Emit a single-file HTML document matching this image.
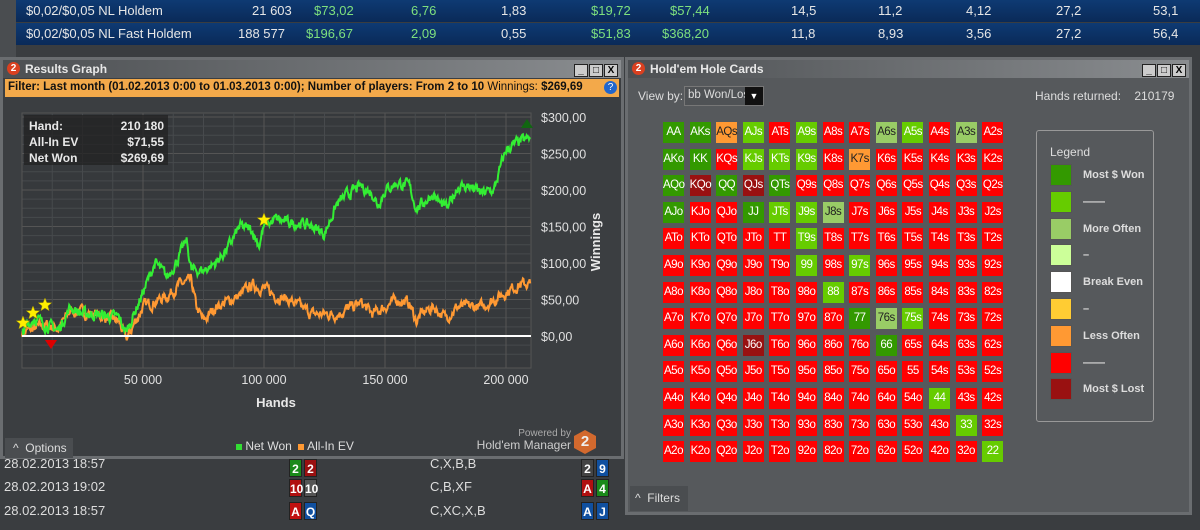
<!DOCTYPE html>
<html><head><meta charset="utf-8"><style>
*{margin:0;padding:0;box-sizing:border-box}
body{width:1200px;height:530px;overflow:hidden;background:#3a3d40;font-family:"Liberation Sans",sans-serif;position:relative;color:#ddd}
.abs{position:absolute}
.row{position:absolute;left:16px;width:1184px;height:22px;background:linear-gradient(#0e3a73,#0a2a58);font-size:13px;color:#e6e6e6}
.row span{position:absolute;top:3px}
.g{color:#7ee07e}
.win{position:absolute;background:#3b3e41;border:3px solid #6a6d70}
.title{position:absolute;left:0;right:0;top:0;height:18px;background:linear-gradient(90deg,#4c4f52,#8a8d90);font-size:12px;font-weight:bold;color:#e8e8e8;padding:2px 0 0 22px}
.logo{position:absolute;left:4px;top:2px;width:13px;height:13px;border-radius:50%;background:#d94020;color:#fff;font-size:10px;text-align:center;line-height:13px}
.btns{position:absolute;right:3px;top:2px}
.btns b{display:inline-block;width:14px;height:13px;background:#ccc;border:1px solid #222;margin-left:1px;font-size:10px;color:#000;text-align:center;line-height:12px}
.cell{position:absolute;width:21px;height:21px;font-size:11.5px;text-align:center;line-height:21px;color:#fff;letter-spacing:-0.5px}
.leg{position:absolute;left:13px;width:22px;height:22px;border:1px solid #555}
.legt{position:absolute;left:46px;font-size:11px;font-weight:bold;color:#ddd}
.bl{position:absolute;font-size:13px;color:#ddd}
.card{position:absolute;width:13px;height:18px;font-size:12px;font-weight:bold;color:#fff;text-align:center;line-height:18px;border:1px solid #222}
</style></head><body>
<div class="abs" style="left:0;top:0;width:16px;height:60px;background:#4a4d50"></div>
<div class="row" style="top:0"><span style="left:10px">$0,02/$0,05 NL Holdem</span><span style="left:236px">21 603</span><span class="g" style="left:298px">$73,02</span><span class="g" style="left:395px">6,76</span><span style="left:485px">1,83</span><span class="g" style="left:575px">$19,72</span><span class="g" style="left:654px">$57,44</span><span style="left:775px">14,5</span><span style="left:862px">11,2</span><span style="left:950px">4,12</span><span style="left:1040px">27,2</span><span style="left:1137px">53,1</span></div>
<div class="row" style="top:23px"><span style="left:10px">$0,02/$0,05 NL Fast Holdem</span><span style="left:222px">188 577</span><span class="g" style="left:290px">$196,67</span><span class="g" style="left:395px">2,09</span><span style="left:485px">0,55</span><span class="g" style="left:575px">$51,83</span><span class="g" style="left:646px">$368,20</span><span style="left:775px">11,8</span><span style="left:862px">8,93</span><span style="left:950px">3,56</span><span style="left:1040px">27,2</span><span style="left:1137px">56,4</span></div>

<div class="win" style="left:0;top:57px;width:624px;height:402px">
<div class="title"><div class="logo">2</div>Results Graph<div class="btns"><b>_</b><b>□</b><b>X</b></div></div>
<div class="abs" style="left:2px;top:19px;width:614px;height:18px;background:#f3a94a;font-size:11.5px;color:#111;padding:2px 0 0 3px"><b>Filter:</b> <b>Last month (01.02.2013 0:00 to 01.03.2013 0:00); Number of players: From 2 to 10</b> Winnings: <b>$269,69</b><span style="position:absolute;right:2px;top:2px;width:13px;height:13px;border-radius:50%;background:#2266cc;color:#fff;font-size:10px;text-align:center;line-height:13px">?</span></div>
<div class="abs" style="left:2px;top:378px;width:68px;height:20px;background:#4a4d50;font-size:12px;color:#ddd;padding:3px 0 0 8px">^ &nbsp;Options</div>
<div class="abs" style="left:233px;top:379px;font-size:12px;color:#ddd"><span style="display:inline-block;width:6px;height:6px;background:#33dd33"></span> Net Won &nbsp;<span style="display:inline-block;width:6px;height:6px;background:#ff9933"></span> All-In EV</div>
<div class="abs" style="left:478px;top:368px;font-size:10px;color:#aaa;width:90px;text-align:right">Powered by</div>
<div class="abs" style="left:470px;top:378px;font-size:12px;color:#ccc;width:98px;text-align:right">Hold'em Manager</div>
<div class="abs" style="left:571px;top:370px;width:22px;height:24px;background:#d2692e;clip-path:polygon(50% 0,100% 25%,100% 75%,50% 100%,0 75%,0 25%);color:#eee;font-weight:bold;font-size:15px;text-align:center;line-height:24px">2</div>
</div>
<svg id="chart" class="abs" style="left:0;top:0" width="620" height="420"></svg>

<div class="win" style="left:625px;top:57px;width:567px;height:458px;background:#56595c">
<div class="title"><div class="logo">2</div>Hold'em Hole Cards<div class="btns"><b>_</b><b>□</b><b>X</b></div></div>
<div class="abs" style="left:10px;top:29px;font-size:12px;color:#ddd">View by:</div>
<div class="abs" style="left:56px;top:26px;width:80px;height:20px;border:1px solid #777;background:#4f5255;font-size:11.5px;color:#ddd;padding:2px 0 0 3px;overflow:hidden;white-space:nowrap">bb Won/Lost<span style="position:absolute;right:0;top:0;width:18px;height:18px;background:#111;color:#fff;font-size:9px;text-align:center;line-height:18px">▼</span></div>
<div class="abs" style="left:407px;top:29px;font-size:12px;color:#ddd">Hands returned: &nbsp;&nbsp;&nbsp;210179</div>
<div class="abs" style="left:408px;top:70px;width:118px;height:292px;border:1px solid #999;border-radius:3px" id="legend"><div class="abs" style="left:13px;top:14px;font-size:12px;color:#ddd">Legend</div></div>
<div class="abs" style="left:2px;top:426px;width:58px;height:25px;background:#4a4d50;font-size:12px;color:#ddd;padding:5px 0 0 5px">^ &nbsp;Filters</div>
<div id="grid"></div>
</div>

<div class="bl" style="left:4px;top:456px">28.02.2013 18:57</div>
<div class="bl" style="left:4px;top:479px">28.02.2013 19:02</div>
<div class="bl" style="left:4px;top:503px">28.02.2013 18:57</div>
<div class="bl" style="left:430px;top:456px">C,X,B,B</div>
<div class="bl" style="left:430px;top:479px">C,B,XF</div>
<div class="bl" style="left:430px;top:503px">C,XC,X,B</div>
<div class="card" style="left:289px;top:459px;background:#1a8a1a">2</div><div class="card" style="left:304px;top:459px;background:#9a1010">2</div>
<div class="card" style="left:289px;top:479px;background:#b01010">10</div><div class="card" style="left:304px;top:479px;background:#555">10</div>
<div class="card" style="left:289px;top:502px;background:#c01010">A</div><div class="card" style="left:304px;top:502px;background:#1050a0">Q</div>
<div class="card" style="left:581px;top:459px;background:#444">2</div><div class="card" style="left:596px;top:459px;background:#1050a0">9</div>
<div class="card" style="left:581px;top:479px;background:#b01010">A</div><div class="card" style="left:596px;top:479px;background:#1a8a1a">4</div>
<div class="card" style="left:581px;top:502px;background:#1050a0">A</div><div class="card" style="left:596px;top:502px;background:#1050a0">J</div>

<script>
var C={D:'#339900',G:'#66cc00',L:'#99cc66',O:'#ff9933',R:'#ff0000',K:'#991111'};
var ranks='AKQJT98765432';
var colors=['DDOGRGRRLGRLR','DDRGGGRORRRRR','DKDKDRRRRRRRR','DRRDGGLRRRRRR','RRRRRGRRRRRRR','RRRRRGRGRRRRR','RRRRRRGRRRRRR','RRRRRRRDLGRRR','RRRKRRRRDRRRR','RRRRRRRRRRRRR','RRRRRRRRRRGRR','RRRRRRRRRRRGR','RRRRRRRRRRRRG'];
var h='';
for(var i=0;i<13;i++)for(var j=0;j<13;j++){
 var n=i==j?ranks[i]+ranks[j]:(j>i?ranks[i]+ranks[j]+'s':ranks[j]+ranks[i]+'o');
 var c=colors[i][j];var tc=(c=='O'||c=='L')?'#222':'#fff';
 h+='<div class="cell" style="left:'+(35+j*26.6)+'px;top:'+(62+i*26.6)+'px;background:'+C[c]+';color:'+tc+'">'+n+'</div>';}
document.getElementById('grid').innerHTML=h;
var L=[['#339900','Most $ Won'],['#66cc00','——'],['#99cc66','More Often'],['#ccff99','–'],['#ffffff','Break Even'],['#ffcc33','–'],['#ff9933','Less Often'],['#ff0000','——'],['#991111','Most $ Lost']];
var lh='';L.forEach(function(l,k){var y=33+k*26.8;lh+='<div class="leg" style="top:'+y+'px;background:'+l[0]+'"></div><div class="legt" style="top:'+(y+5)+'px">'+l[1]+'</div>';});
document.getElementById('legend').innerHTML+=lh;
var s='';
function px(k){return 22+k*(121/50);}function py(v){return 336-v*0.73;}
s+='<rect x="22" y="113" width="509" height="255" fill="#36393c" stroke="#555"/>';
for(var v=-25;v<=300;v+=12.5){s+='<line x1="22" x2="531" y1="'+py(v)+'" y2="'+py(v)+'" stroke="'+(v%50==0?'#555':'#474a4d')+'"/>';}
for(var k=0;k<=210;k+=12.5){s+='<line y1="113" y2="368" x1="'+px(k)+'" x2="'+px(k)+'" stroke="'+(k%50==0?'#555':'#474a4d')+'"/>';}
for(var v=0;v<=300;v+=50){s+='<text x="541" y="'+(py(v)+5)+'" fill="#e0e0e0" font-size="12.5">$'+v+',00</text>';}
[50,100,150,200].forEach(function(k){s+='<text x="'+px(k)+'" y="384" fill="#e0e0e0" font-size="12.5" text-anchor="middle">'+(k)+' 000</text>';});
s+='<text x="276" y="407" fill="#e8e8e8" font-size="13" font-weight="bold" text-anchor="middle">Hands</text>';
s+='<text transform="translate(600,242) rotate(-90)" fill="#e8e8e8" font-size="13" font-weight="bold" text-anchor="middle">Winnings</text>';
var seed=7;function rnd(){seed=(seed*16807)%2147483647;return seed/2147483647;}
function series(a,col,amp){var p=[];var w=0;for(var i=0;i<a.length-1;i++){var k0=a[i][0],v0=a[i][1],k1=a[i+1][0],v1=a[i+1][1];var n=Math.max(2,Math.round((k1-k0)*4));for(var t=0;t<n;t++){var k=k0+(k1-k0)*t/n;w=w*0.6+(rnd()-0.5)*amp;var v=v0+(v1-v0)*t/n+w;p.push(px(k).toFixed(1)+','+py(v).toFixed(1));}}
p.push(px(a[a.length-1][0])+','+py(a[a.length-1][1]));return '<polyline points="'+p.join(' ')+'" fill="none" stroke="'+col+'" stroke-width="2"/>';}
var ora=[[0,5],[10,15],[15,10],[20,35],[30,30],[40,20],[43,-5],[50,40],[60,55],[65,70],[70,75],[72,40],[75,20],[80,40],[90,55],[95,70],[100,65],[105,55],[110,50],[115,40],[120,30],[130,30],[140,45],[145,30],[150,40],[155,50],[160,45],[163,20],[165,30],[170,40],[175,25],[180,40],[185,40],[190,40],[195,50],[200,60],[205,70],[210,72]];
var gr=[[0,5],[5,25],[10,15],[15,8],[20,40],[25,30],[30,30],[40,25],[43,5],[50,60],[55,100],[60,80],[65,110],[68,130],[70,90],[75,90],[80,100],[85,120],[90,150],[95,145],[98,125],[100,150],[105,160],[110,155],[115,155],[120,150],[125,140],[130,180],[135,195],[140,205],[145,195],[147,180],[150,200],[155,210],[160,205],[163,175],[165,180],[170,195],[173,180],[176,175],[180,205],[185,205],[190,195],[195,200],[200,255],[205,265],[210,270]];
s+=series(ora,'#ff9933',12);s+=series(gr,'#33ee33',12);
s+='<line x1="22" x2="531" y1="336" y2="336" stroke="#fff" stroke-width="2"/>';
function star(x,y){var p=[];for(var i=0;i<10;i++){var r=i%2?3:7,a=Math.PI/5*i-Math.PI/2;p.push((x+r*Math.cos(a)).toFixed(1)+','+(y+r*Math.sin(a)).toFixed(1));}return '<polygon points="'+p.join(' ')+'" fill="#ffee00" stroke="#aa9900" stroke-width=".5"/>';}
s+=star(23,323)+star(33,313)+star(45,305)+star(264,220);
s+='<polygon points="45,340 57,340 51,349" fill="#dd0000"/><polygon points="527,119 521,128 533,128" fill="#116611"/>';
s+='<rect x="24" y="115" width="144" height="50" fill="#222" opacity=".75"/>';
s+='<g fill="#e8e8e8" font-size="12" font-weight="bold"><text x="29" y="130">Hand:</text><text x="164" y="130" text-anchor="end">210 180</text><text x="29" y="146">All-In EV</text><text x="164" y="146" text-anchor="end">$71,55</text><text x="29" y="162">Net Won</text><text x="164" y="162" text-anchor="end">$269,69</text></g>';
document.getElementById('chart').innerHTML=s;
</script>
</body></html>
